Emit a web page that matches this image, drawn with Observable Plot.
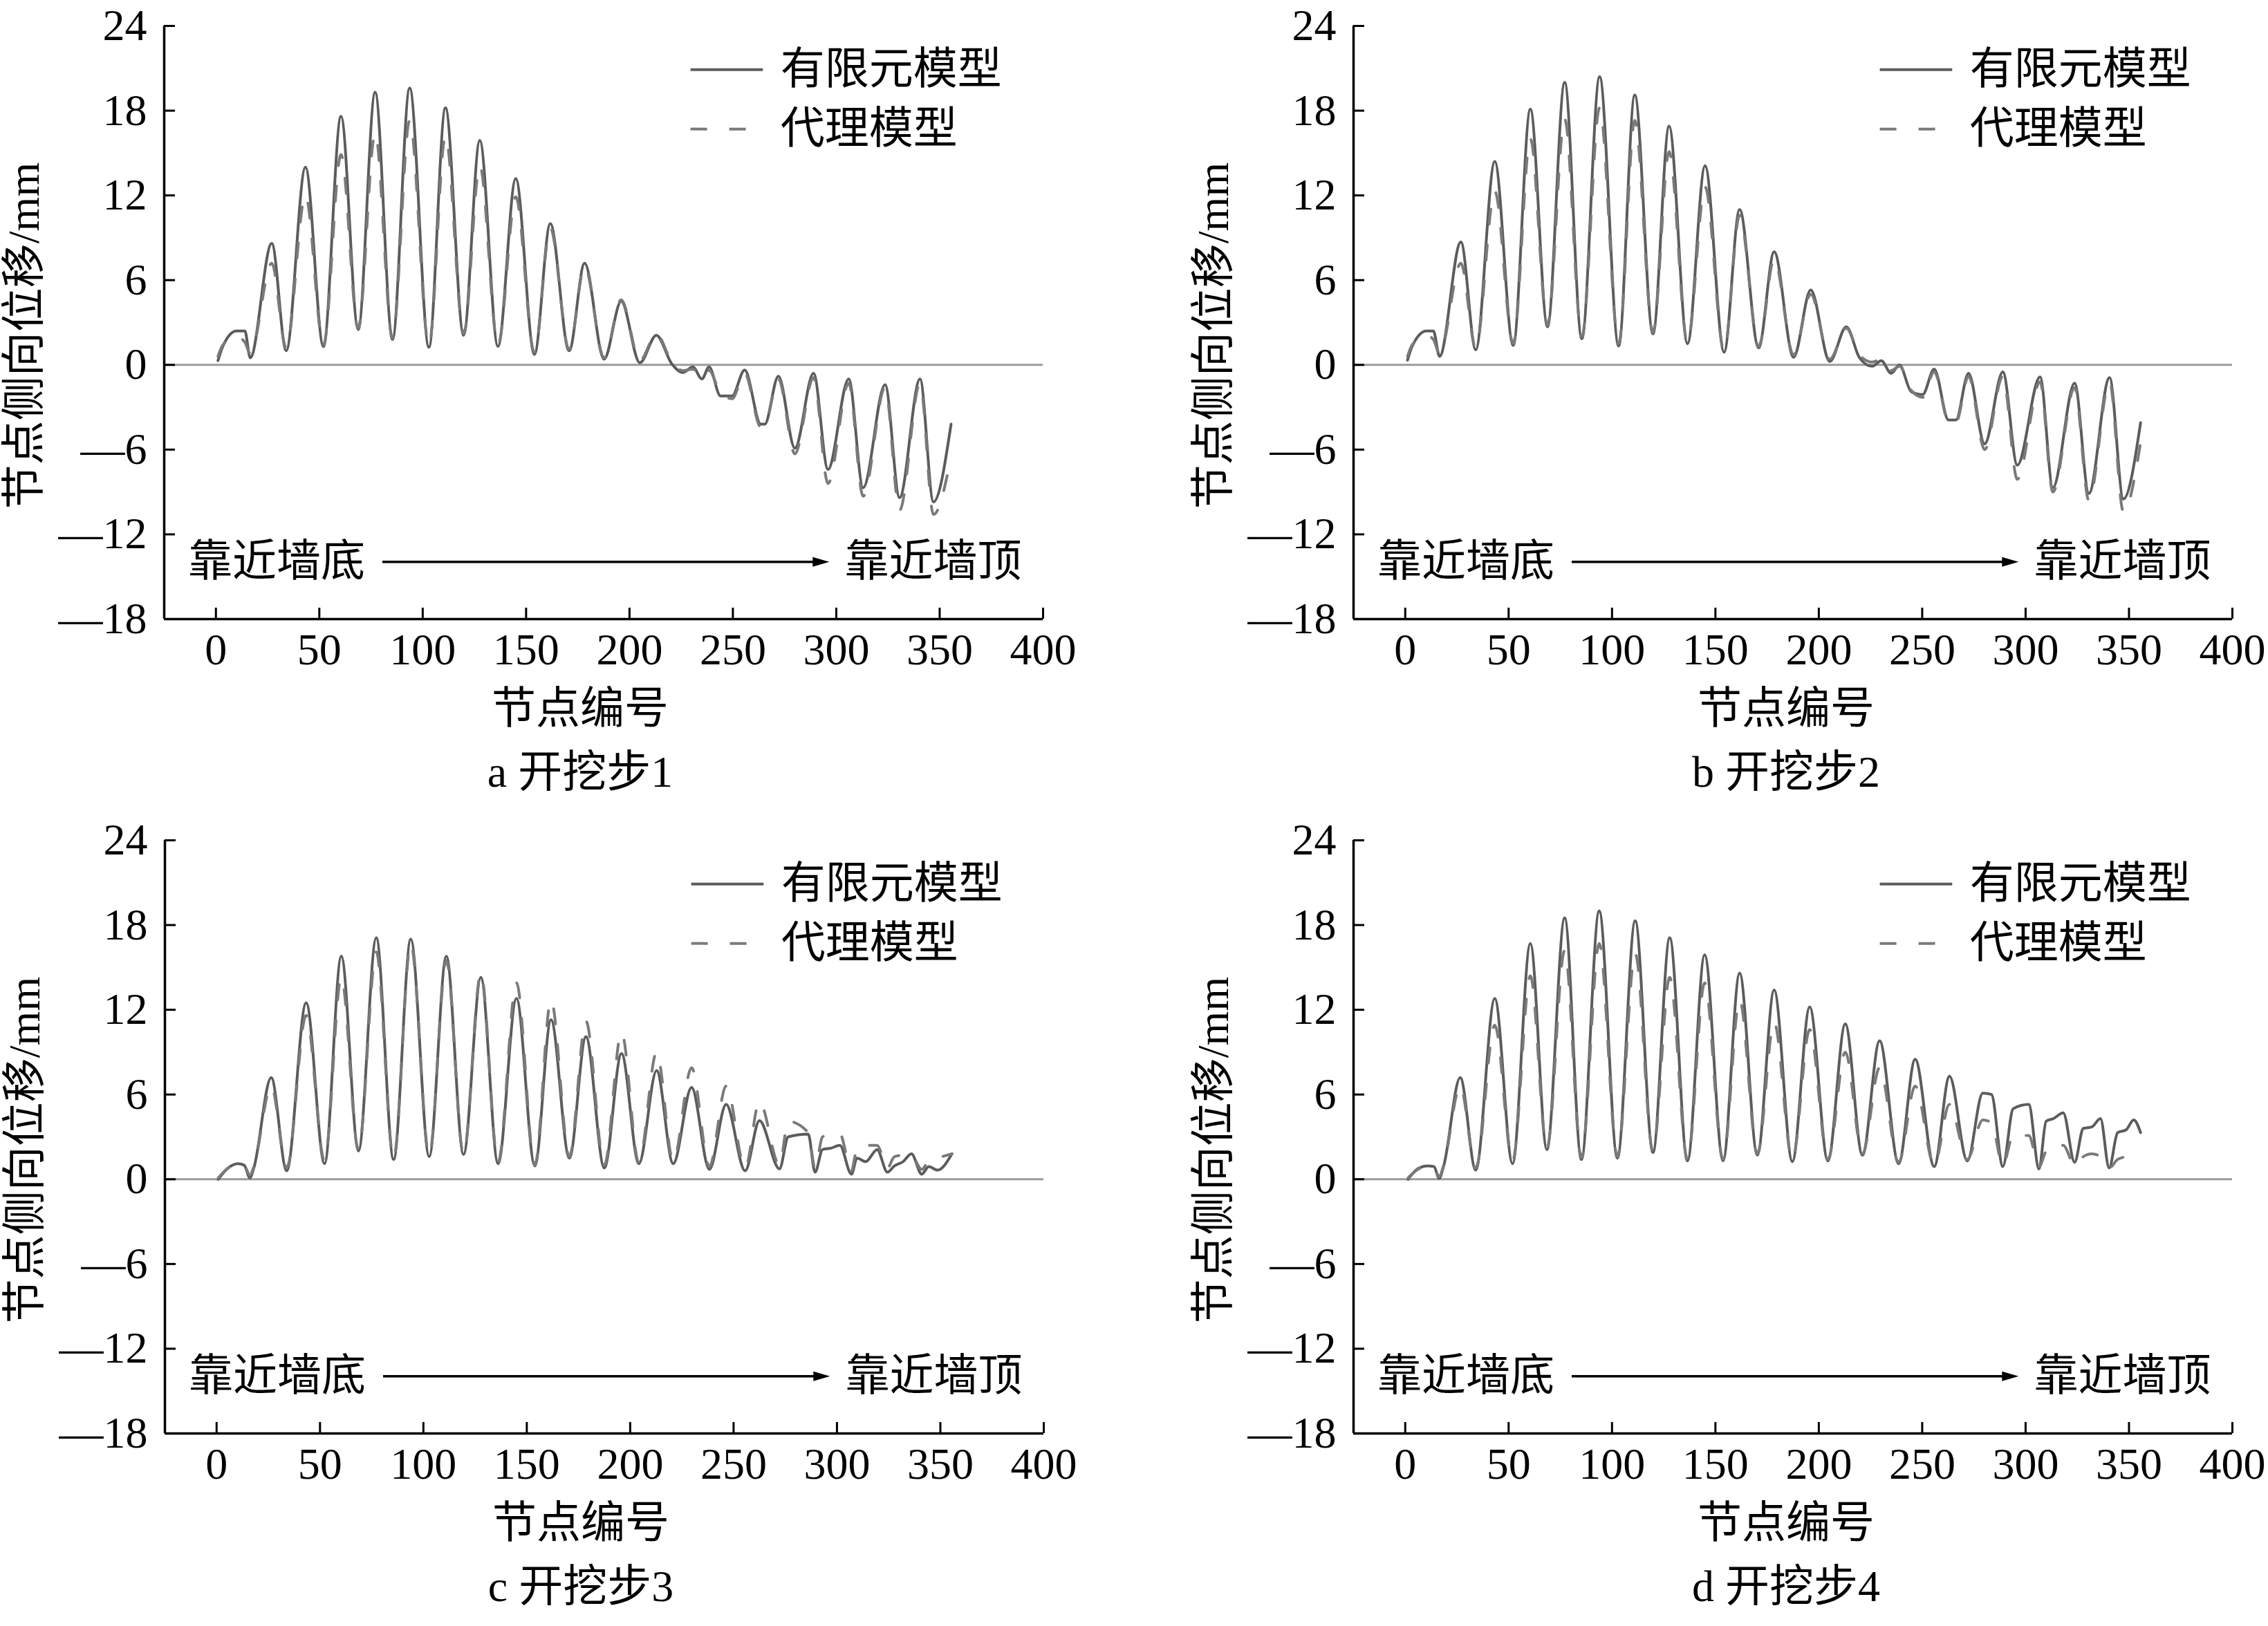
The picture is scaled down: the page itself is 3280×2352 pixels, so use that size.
<!DOCTYPE html>
<html><head><meta charset="utf-8">
<script src="https://cdn.jsdelivr.net/npm/d3@7"></script>
<script src="https://cdn.jsdelivr.net/npm/@observablehq/plot@0.6"></script>
<style>
html,body{margin:0;padding:0;background:#fff;overflow:hidden;}
#wrap{position:relative;width:3280px;height:2352px;background:#fff;}
.panel{position:absolute;}
</style></head><body><div id="wrap"></div>
<script>
// ---- tick values ----
const xTicks = [0, 50, 100, 150, 200, 250, 300, 350, 400];
const yTicks = [-18, -12, -6, 0, 6, 12, 18, 24];

// ---- series labels / texts ----
const seriesLabels = ["有限元模型", "代理模型"];
const captions = ["a 开挖步1", "b 开挖步2", "c 开挖步3", "d 开挖步4"];
const xLabel = "节点编号";
const yLabel = "节点侧向位移/mm";
const dirLabels = ["靠近墙底", "靠近墙顶"];

// ---- panel a : excavation step 1 ----
const aNodes = [1,3.3,10,14,16.6,27,34,43.3,52,60.5,68.8,77,85.4,93.7,103,111,119.8,127.6,136.4,145,154,161.7,170.8,178.3,187.7,196,205,213,220.5,225.7,230.7,235,238.5,244,249.6,255.7,263.5,265.4,272,280,289,296,306,313,323.6,330.6,340.5,347,355.5];
const aFE = [0.3,1.3,2.4,2.4,0.5,8.6,1.0,14.0,1.3,17.6,2.5,19.3,1.8,19.6,1.25,18.2,2.1,15.9,1.3,13.2,0.74,10.0,1.0,7.2,0.4,4.5,0.15,2.1,0.06,-0.54,-0.15,-1.0,-0.15,-2.2,-2.2,-0.36,-4.2,-4.2,-0.8,-5.9,-0.6,-7.4,-1.0,-8.7,-1.4,-9.4,-1.0,-9.7,-4.2];
const aSur = [0.6,1.4,2.0,1.6,0.8,7.2,1.2,12.0,1.4,14.9,2.6,16.4,1.9,17.3,1.4,16.2,2.2,14.1,1.4,11.9,0.9,9.7,1.1,7.0,0.5,4.6,0.3,2.2,0.2,-0.4,-0.3,-0.9,-0.4,-2.0,-2.4,-0.6,-4.4,-4.3,-1.0,-6.3,-0.9,-8.4,-1.3,-9.3,-1.6,-10.3,-1.3,-10.6,-6.5];

// ---- panel b : excavation step 2 ----
const bNodes = [1.1,3.3,10.3,13.6,16.6,26.9,34.1,43.3,52.2,60.5,68.8,77.1,85.4,94,103.2,111,119.8,127.6,136.5,145,154.2,161.7,170.9,178.4,187.8,196.1,205.3,213.3,219.7,225.8,230.2,235,239,244.7,250.2,255.8,262.7,266.3,272.4,280.2,289,296,307,313.2,323.7,330.6,340.6,347.3,355.6];
const bFE = [0.33,1.3,2.4,2.4,0.6,8.7,1.07,14.4,1.37,18.1,2.7,20.0,1.85,20.4,1.34,19.1,2.2,16.9,1.5,14.1,0.9,11.0,1.2,8.0,0.54,5.3,0.24,2.7,0.5,-0.1,0.3,-0.6,0,-1.9,-2.1,-0.3,-3.9,-3.9,-0.6,-5.6,-0.5,-7.1,-0.86,-8.7,-1.3,-9.1,-0.9,-9.5,-4.1];
const bSur = [0.6,1.4,2.1,1.8,0.8,7.2,1.2,12.3,1.5,16.0,2.8,17.4,2.0,18.2,1.5,17.3,2.3,15.1,1.6,12.6,1.0,10.6,1.3,7.5,0.7,5.0,0.4,2.6,0.7,0.2,0.4,-0.4,-0.1,-1.8,-2.3,-0.5,-4.0,-4.1,-0.8,-6.0,-0.8,-8.1,-1.2,-9.0,-1.6,-9.6,-1.2,-10.4,-5.5];

// ---- panel c : excavation step 3 ----
const cNodes = [0.8,5.6,10.3,13.3,16.1,18,26.4,33.9,43.3,52.2,60.3,68.6,77.2,85.6,93.9,102.8,111.1,119.4,127.8,136.1,145,153.9,161.7,170.6,178.6,187.5,195.8,204.2,212.8,220.8,229.7,238.3,246.4,255.6,262.5,272.2,276.4,286.1,289.4,293,297,301.4,307,309.7,313.9,319.4,324.4,327.8,332,336,341,344.4,348.6,355.6];
const cFE = [0,0.8,1.1,1.0,0.1,0.8,7.2,0.6,12.5,1.1,15.8,2.0,17.1,1.4,17.0,1.6,15.8,1.75,14.3,1.1,12.8,0.95,11.3,1.5,10.1,0.8,8.9,1.1,7.7,1.1,6.5,0.7,5.3,0.6,4.15,0.74,3.0,3.2,0.5,2.1,2.2,2.4,0.36,1.5,1.25,2.1,0.5,0.95,1.25,1.8,0.36,0.9,0.65,1.8];
const cSur = [0.1,0.8,1.1,1.0,0.3,0.9,6.6,0.8,11.6,1.3,14.3,2.1,16.1,1.5,16.7,1.7,15.5,1.8,14.6,1.2,13.9,1.0,12.7,1.6,11.2,1.0,10.4,1.2,9.0,1.3,7.9,0.9,6.6,0.8,5.5,1.0,4.1,3.3,0.8,3.0,3.2,3.2,0.6,2.2,2.4,2.4,0.8,1.6,1.7,1.7,0.7,1.3,1.5,1.8];

// ---- panel d : excavation step 4 ----
const dNodes = [1.4,6.1,10.8,13.9,16.4,18.6,26.6,34.1,43.3,51.9,60.5,68.5,77.1,85.2,93.8,102.6,111.2,119.8,127.9,136.5,144.8,153.7,161.7,170.3,178.4,187.2,195.6,204.4,212.8,221.1,229.4,238.6,246.6,255.8,263.2,271.8,279.3,283.5,289,294,301.5,306.5,309.9,313.5,318.2,323.7,327.9,332,336.2,340.4,344.5,348.6,352.3,355.6];
const dFE = [0,0.75,0.95,0.9,0.06,0.95,7.2,0.65,12.8,1.1,16.7,2.1,18.5,1.4,19.0,1.5,18.3,1.9,17.1,1.3,15.9,1.3,14.6,1.7,13.4,1.25,12.2,1.3,11.0,1.7,9.8,1.1,8.5,0.9,7.3,1.3,6.1,6.0,0.9,5.0,5.3,0.74,4.1,4.3,4.7,1.2,3.6,3.7,4.3,0.8,3.3,3.5,4.2,3.3];
const dSur = [0.1,0.7,0.9,0.8,0.2,1.0,6.6,0.8,10.9,1.3,14.4,2.2,16.2,1.5,16.7,1.6,16.0,2.0,14.3,1.4,13.9,1.4,12.7,1.8,11.1,1.4,10.6,1.4,9.0,1.8,7.9,1.2,6.6,1.0,5.3,1.4,4.2,4.0,1.0,3.1,3.1,0.9,2.0,2.4,2.4,1.0,1.6,1.8,1.6,0.8,1.4,1.6,1.7,1.8];

// ---- annotation / legend anchors (data units) ----
const legendYs = [20.9, 16.7];
const legendLineX = [229.5, 264.5];
const legendTextX = 273;
const dirY = -13.95;
const dirTextX = [-13.5, 304];
const arrowX = [80.5, 289, 292.6];

const W = 1560, H = 1170;
const ML = 237, MR = W - 1508, MT = 37, MB = H - 895;
const FONT = '"Liberation Serif","Noto Sans CJK SC",serif';
const fmt = d => d < 0 ? "\u2014" + Math.abs(d) : String(d);

const triangle = {draw(ctx) { ctx.moveTo(12, 0); ctx.lineTo(-12, -7); ctx.lineTo(-12, 7); ctx.closePath(); }};

const panels = [
  {nodes: aNodes, fe: aFE, sur: aSur, caption: captions[0], left: 0, top: 0, capDx: -34},
  {nodes: bNodes, fe: bFE, sur: bSur, caption: captions[1], left: 1720, top: 0, capDx: -10},
  {nodes: cNodes, fe: cFE, sur: cSur, caption: captions[2], left: 1, top: 1178, capDx: -34},
  {nodes: dNodes, fe: dFE, sur: dSur, caption: captions[3], left: 1720, top: 1178, capDx: -10}
];

const wrap = document.getElementById("wrap");
for (const p of panels) {
  const rows = p.nodes.map((n, i) => ({node: n, fe: p.fe[i], sur: p.sur[i]}));
  const legendRows = seriesLabels.map((label, i) => ({label, y: legendYs[i]}));
  const dirRows = dirLabels.map((label, i) => ({label, x: dirTextX[i], y: dirY}));
  const chart = Plot.plot({
    width: W, height: H,
    marginLeft: ML, marginRight: MR, marginTop: MT, marginBottom: MB,
    x: {domain: [-25, 400], label: null},
    y: {domain: [-18, 24], label: null},
    style: {fontFamily: FONT, fontSize: "64px", color: "black", background: "transparent", overflow: "visible"},
    marks: [
      Plot.ruleY([0], {stroke: "#9b9b9b", strokeWidth: 3}),
      Plot.lineY(rows, {x: "node", y: "fe", stroke: "#5c5c5c", strokeWidth: 4, curve: "monotone-x"}),
      Plot.lineY(rows, {x: "node", y: "sur", stroke: "#7a7a7a", strokeWidth: 4, strokeDasharray: "22,30", curve: "monotone-x"}),
      Plot.ruleX([-25], {stroke: "black", strokeWidth: 3.5}),
      Plot.ruleY([-18], {stroke: "black", strokeWidth: 3.5}),
      Plot.axisY({ticks: yTicks, tickSize: 16, dx: 16, strokeWidth: 3, tickFormat: () => "", label: null}),
      Plot.axisY({ticks: yTicks, tickSize: 0, tickPadding: 25, tickFormat: fmt, label: null, fontSize: 64, fontFamily: FONT}),
      Plot.axisX({ticks: xTicks, tickSize: 16, dy: -16, strokeWidth: 3, tickFormat: () => "", label: null}),
      Plot.axisX({ticks: xTicks, tickSize: 0, tickPadding: 20, label: null, fontSize: 64, fontFamily: FONT}),
      // legend
      Plot.link([legendRows[0]], {x1: () => legendLineX[0], x2: () => legendLineX[1], y1: "y", y2: "y", stroke: "#5c5c5c", strokeWidth: 4}),
      Plot.link([legendRows[1]], {x1: () => legendLineX[0], x2: () => legendLineX[1], y1: "y", y2: "y", stroke: "#7a7a7a", strokeWidth: 4, strokeDasharray: "24,32"}),
      Plot.text(legendRows, {x: () => legendTextX, y: "y", text: "label", textAnchor: "start", fontSize: 64, fontFamily: FONT, fill: "black"}),
      // direction annotation
      Plot.text(dirRows, {x: "x", y: "y", text: "label", textAnchor: "start", fontSize: 64, fontFamily: FONT, fill: "black"}),
      Plot.link([{y: dirY}], {x1: () => arrowX[0], x2: () => arrowX[1], y1: "y", y2: "y", stroke: "black", strokeWidth: 3.5}),
      Plot.dot([{y: dirY}], {x: () => arrowX[2], y: "y", symbol: triangle, r: 6, fill: "black", stroke: "none"}),
      // axis titles and caption
      Plot.text([yLabel], {frameAnchor: "left", textAnchor: "middle", lineAnchor: "middle", rotate: -90, dx: -202, dy: 19, fontSize: 64, fontFamily: FONT, fill: "black"}),
      Plot.text([xLabel], {frameAnchor: "bottom", textAnchor: "middle", lineAnchor: "middle", dx: p.capDx, dy: 130, fontSize: 64, fontFamily: FONT, fill: "black"}),
      Plot.text([p.caption], {frameAnchor: "bottom", textAnchor: "middle", lineAnchor: "middle", dx: p.capDx, dy: 222, fontSize: 64, fontFamily: FONT, fill: "black"})
    ]
  });
  chart.classList.add("panel");
  chart.style.left = p.left + "px";
  chart.style.top = p.top + "px";
  wrap.appendChild(chart);
}
</script>
</body></html>
